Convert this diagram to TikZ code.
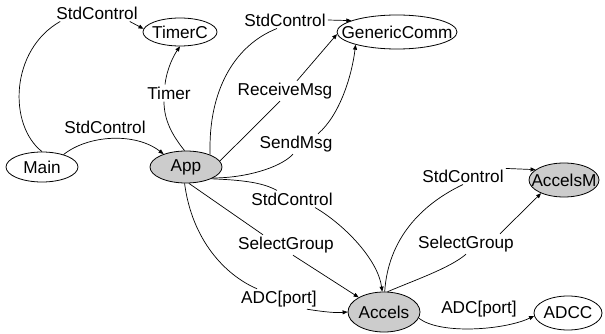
\documentclass[tikz,border=0pt]{standalone}
\usepackage{fontspec}
\setmainfont{Liberation Sans}
\usetikzlibrary{shapes.geometric,arrows.meta}
\tikzset{
	comp/.style={ellipse, draw=black, line width=0.8pt, inner xsep=-14pt, inner ysep=0pt},
	compGray/.style={comp, fill=black!20},
	edgeLbl/.style={inner sep=2pt},
	wire/.style={line width=0.7pt},
	wireTo/.style={wire, -{Triangle[length=5pt,width=4pt]}}
}
\begin{document}
\begin{tikzpicture}[x=1pt, y=-1pt, font=\fontsize{17.2}{20}\selectfont]
\useasboundingbox (0,0) rectangle (605,334);

\node[comp, minimum width=72pt, minimum height=30pt](main) at (42,167){Main};
	\node[compGray, minimum width=72pt, minimum height=32pt](app) at (186,167){App};
	\node[comp, minimum width=74pt, minimum height=28pt](timerC) at (180,32){TimerC};
	\node[comp, minimum width=120pt, minimum height=34pt](genericComm) at (397,32){GenericComm};
	\node[compGray, minimum width=72pt, minimum height=40pt](accels) at (384,312){Accels};
	\node[compGray, minimum width=70pt, minimum height=34pt](accelsM) at (564,180){AccelsM};
	\node[comp, minimum width=68pt, minimum height=34pt](adcc) at (568,313){ADCC};

	\node[edgeLbl](lblMainTimer) at (97,13){StdControl};
	\node[edgeLbl](lblMainApp) at (105,127){StdControl};
	\node[edgeLbl](lblTimer) at (169,93){Timer};
	\node[edgeLbl](lblAppComm) at (285,20){StdControl};
	\node[edgeLbl](lblReceive) at (285,91){ReceiveMsg};
	\node[edgeLbl](lblSend) at (296,144){SendMsg};
	\node[edgeLbl](lblAppAccels) at (292,199){StdControl};
	\node[edgeLbl](lblSelect1) at (286,245){SelectGroup};
	\node[edgeLbl](lblAdc1) at (279,299){ADC[port]};
	\node[edgeLbl](lblAccelsM) at (463,176){StdControl};
	\node[edgeLbl](lblSelect2) at (466,244){SelectGroup};
	\node[edgeLbl](lblAdc2) at (479,309){ADC[port]};

	\draw[wire] (main.north) .. controls (8,125) and (10,50) .. ([xshift=6pt]lblMainTimer.south west);
	\draw[wireTo] ([xshift=-10pt]lblMainTimer.south east) -- (timerC.175);
	\draw[wireTo] (main.30) .. controls (88,135) and (135,132) .. (app.150);

	\draw[wire] (app.95) .. controls (172,135) and (164,120) .. ([xshift=-5pt]lblTimer.south);
	\draw[wireTo] ([xshift=-4pt]lblTimer.north) .. controls (167,68) and (174,55) .. (timerC.south);

	\draw[wire] (app.27) .. controls (208,90) and (235,45) .. ([xshift=-8pt]lblAppComm.south);
	\draw[wireTo] (lblAppComm.east) -- (genericComm.166);
	\draw[wire] (app.10) -- ([xshift=-5pt]lblReceive.south);
	\draw[wireTo] ([xshift=12pt]lblReceive.north) -- (genericComm.182);
	\draw[wire] (app.-22) .. controls (245,178) and (280,168) .. ([xshift=-3pt]lblSend.south);
	\draw[wireTo] ([xshift=22pt]lblSend.north) .. controls (340,115) and (352,75) .. (genericComm.197);

	\draw[wire] (app.-25) .. controls (240,180) and (262,182) .. ([xshift=-15pt]lblAppAccels.north);
	\draw[wireTo] ([xshift=23pt]lblAppAccels.south) .. controls (345,225) and (378,260) .. (accels.95);
	\draw[wire] (app.-80) -- ([xshift=-23pt]lblSelect1.north);
	\draw[wireTo] ([xshift=7pt]lblSelect1.south) -- (accels.150);
	\draw[wire] (app.-95) .. controls (192,240) and (225,275) .. ([xshift=-22pt]lblAdc1.north);
	\draw[wireTo] ([xshift=28pt]lblAdc1.south) .. controls (325,312) and (335,313) .. (accels.west);

	\draw[wire] (accels.88) .. controls (388,240) and (420,205) .. (lblAccelsM.south);
	\draw[wireTo] (lblAccelsM.10) -- (accelsM.160);
	\draw[wire] (accels.80) .. controls (415,280) and (450,268) .. (lblSelect2.south);
	\draw[wireTo] ([xshift=34pt]lblSelect2.north) -- (accelsM.210);
	\draw[wireTo] (accels.-10) .. controls (440,335) and (505,330) .. (adcc.185);
\end{tikzpicture}
\end{document}
